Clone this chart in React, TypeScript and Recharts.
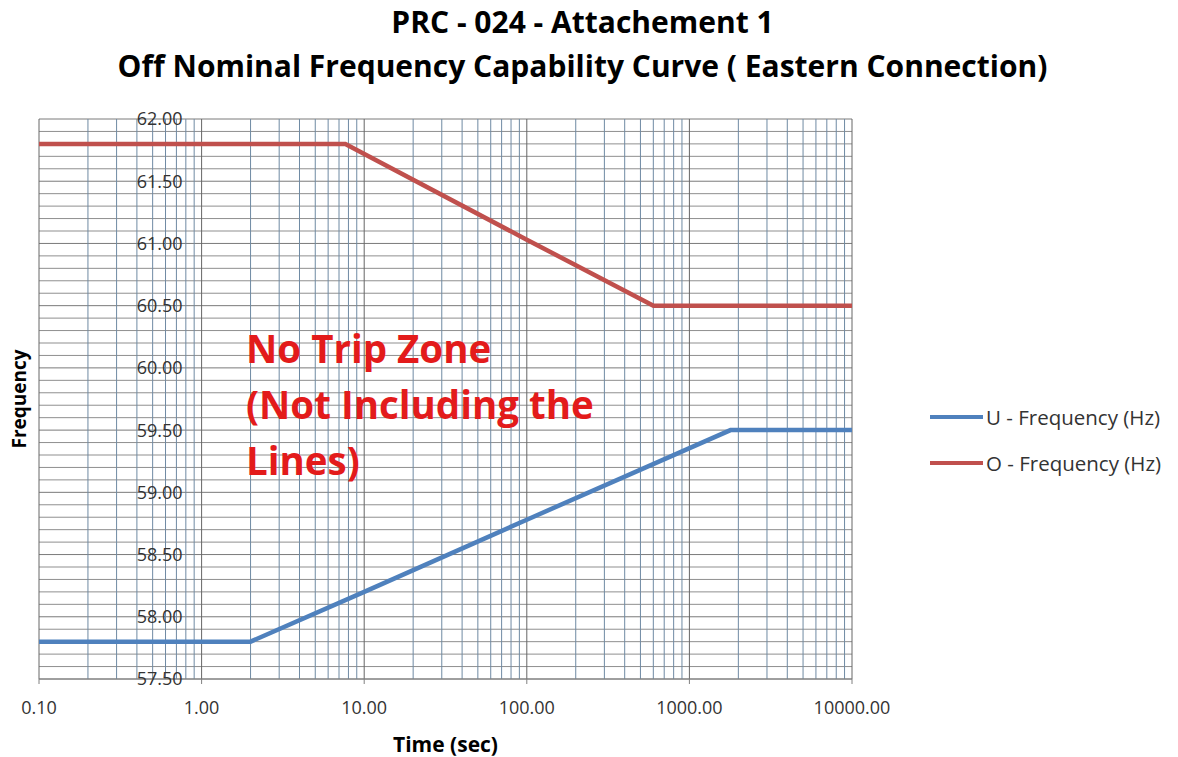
import { LineChart, Line, XAxis, YAxis, ReferenceLine, ReferenceDot, Legend } from "recharts";

// PRC-024 Attachment 1, Eastern Interconnection ride-through curves.
const underFreq = [
  { t: 0.1, f: 57.8 },
  { t: 2, f: 57.8 },
  { t: 10, f: 58.2 },
  { t: 100, f: 58.78 },
  { t: 1790, f: 59.5 },
  { t: 10000, f: 59.5 },
];
const overFreq = [
  { t: 0.1, f: 61.8 },
  { t: 7.66, f: 61.8 },
  { t: 100, f: 61.03 },
  { t: 601, f: 60.5 },
  { t: 10000, f: 60.5 },
];

const xTicks = [0.1, 1, 10, 100, 1000, 10000];
const xMinor = [
  0.2, 0.3, 0.4, 0.5, 0.6, 0.7, 0.8, 0.9,
  2, 3, 4, 5, 6, 7, 8, 9,
  20, 30, 40, 50, 60, 70, 80, 90,
  200, 300, 400, 500, 600, 700, 800, 900,
  2000, 3000, 4000, 5000, 6000, 7000, 8000, 9000,
];
const yTicks = [57.5, 58, 58.5, 59, 59.5, 60, 60.5, 61, 61.5, 62];
const yMinor = [
  57.6, 57.7, 57.8, 57.9, 58.1, 58.2, 58.3, 58.4, 58.6, 58.7, 58.8, 58.9,
  59.1, 59.2, 59.3, 59.4, 59.6, 59.7, 59.8, 59.9, 60.1, 60.2, 60.3, 60.4,
  60.6, 60.7, 60.8, 60.9, 61.1, 61.2, 61.3, 61.4, 61.6, 61.7, 61.8, 61.9,
];

const FONT = "'Open Sans', sans-serif";
const BLUE = "#4F81BD";
const RED = "#C0504D";

function LegendBox() {
  const items = [
    { name: "U - Frequency (Hz)", color: BLUE },
    { name: "O - Frequency (Hz)", color: RED },
  ];
  return (
    <div style={{ fontFamily: FONT, fontSize: 20.5, color: "#333" }}>
      {items.map((it) => (
        <div key={it.name} style={{ display: "flex", alignItems: "center", height: 46 }}>
          <span style={{ display: "inline-block", width: 53, height: 4, background: it.color, marginRight: 3 }} />
          <span>{it.name}</span>
        </div>
      ))}
    </div>
  );
}

export default function App() {
  return (
    <div style={{ position: "absolute", left: 0, top: 0, width: 1178, height: 757, background: "#fff", fontFamily: FONT }}>
      <div style={{ position: "absolute", left: 0, width: 1165, top: 0, textAlign: "center", fontWeight: 700, fontSize: 30, lineHeight: "44px", color: "#000" }}>
        <div>PRC - 024 - Attachement 1</div>
        <div>Off Nominal Frequency Capability Curve ( Eastern Connection)</div>
      </div>
      <LineChart width={1178} height={757} margin={{ top: 119, right: 326, bottom: 0, left: 0 }}>
        <XAxis
          dataKey="t"
          type="number"
          scale="log"
          domain={[0.1, 10000]}
          ticks={xTicks}
          allowDataOverflow
          height={78}
          tickFormatter={(v: number) => v.toFixed(2)}
          tick={{ fill: "#333", fontSize: 18, fontFamily: FONT }}
          tickSize={5}
          tickMargin={17}
          axisLine={{ stroke: "#808080" }}
          tickLine={{ stroke: "#808080" }}
          label={{ value: "Time (sec)", position: "insideBottom", offset: 5, fill: "#000", fontSize: 21, fontWeight: 700, fontFamily: FONT }}
        />
        <YAxis
          type="number"
          domain={[57.5, 62]}
          ticks={yTicks}
          width={39}
          tick={false}
          axisLine={false}
          tickLine={false}
          label={{ value: "Frequency", angle: -90, position: "center", fill: "#000", fontSize: 19, fontWeight: 700, fontFamily: FONT }}
        />
        {yMinor.map((v) => (
          <ReferenceLine key={`ym${v}`} y={v} stroke="#8f8f8f" strokeWidth={1} />
        ))}
        {yTicks.map((v) => (
          <ReferenceLine key={`yM${v}`} y={v} stroke="#7a7a7a" strokeWidth={1} />
        ))}
        {xMinor.map((v) => (
          <ReferenceLine key={`xm${v}`} x={v} stroke="#6f8aa3" strokeWidth={1} />
        ))}
        {xTicks.map((v) => (
          <ReferenceLine key={`xM${v}`} x={v} stroke="#666" strokeWidth={1} />
        ))}
        {yTicks.map((v) => (
          <ReferenceDot
            key={`yl${v}`}
            x={1}
            y={v}
            r={1}
            fill="none"
            stroke="none"
            label={{ value: v.toFixed(2), position: "left", offset: 18, fill: "#333", fontSize: 18, fontFamily: FONT }}
          />
        ))}
        <Line
          data={underFreq}
          dataKey="f"
          name="U - Frequency (Hz)"
          stroke={BLUE}
          strokeWidth={4.5}
          dot={false}
          isAnimationActive={false}
        />
        <Line
          data={overFreq}
          dataKey="f"
          name="O - Frequency (Hz)"
          stroke={RED}
          strokeWidth={4.5}
          dot={false}
          isAnimationActive={false}
        />
        <Legend
          layout="vertical"
          align="center"
          verticalAlign="middle"
          content={<LegendBox />}
          wrapperStyle={{ left: 930, top: 394, width: 248 }}
        />
      </LineChart>
      <div style={{ position: "absolute", left: 246, top: 320, color: "#E31B1B", fontWeight: 700, fontSize: 38.5, lineHeight: "56px", fontFamily: FONT, whiteSpace: "nowrap" }}>
        <div>No Trip Zone</div>
        <div>(Not Including the</div>
        <div>Lines)</div>
      </div>
    </div>
  );
}
